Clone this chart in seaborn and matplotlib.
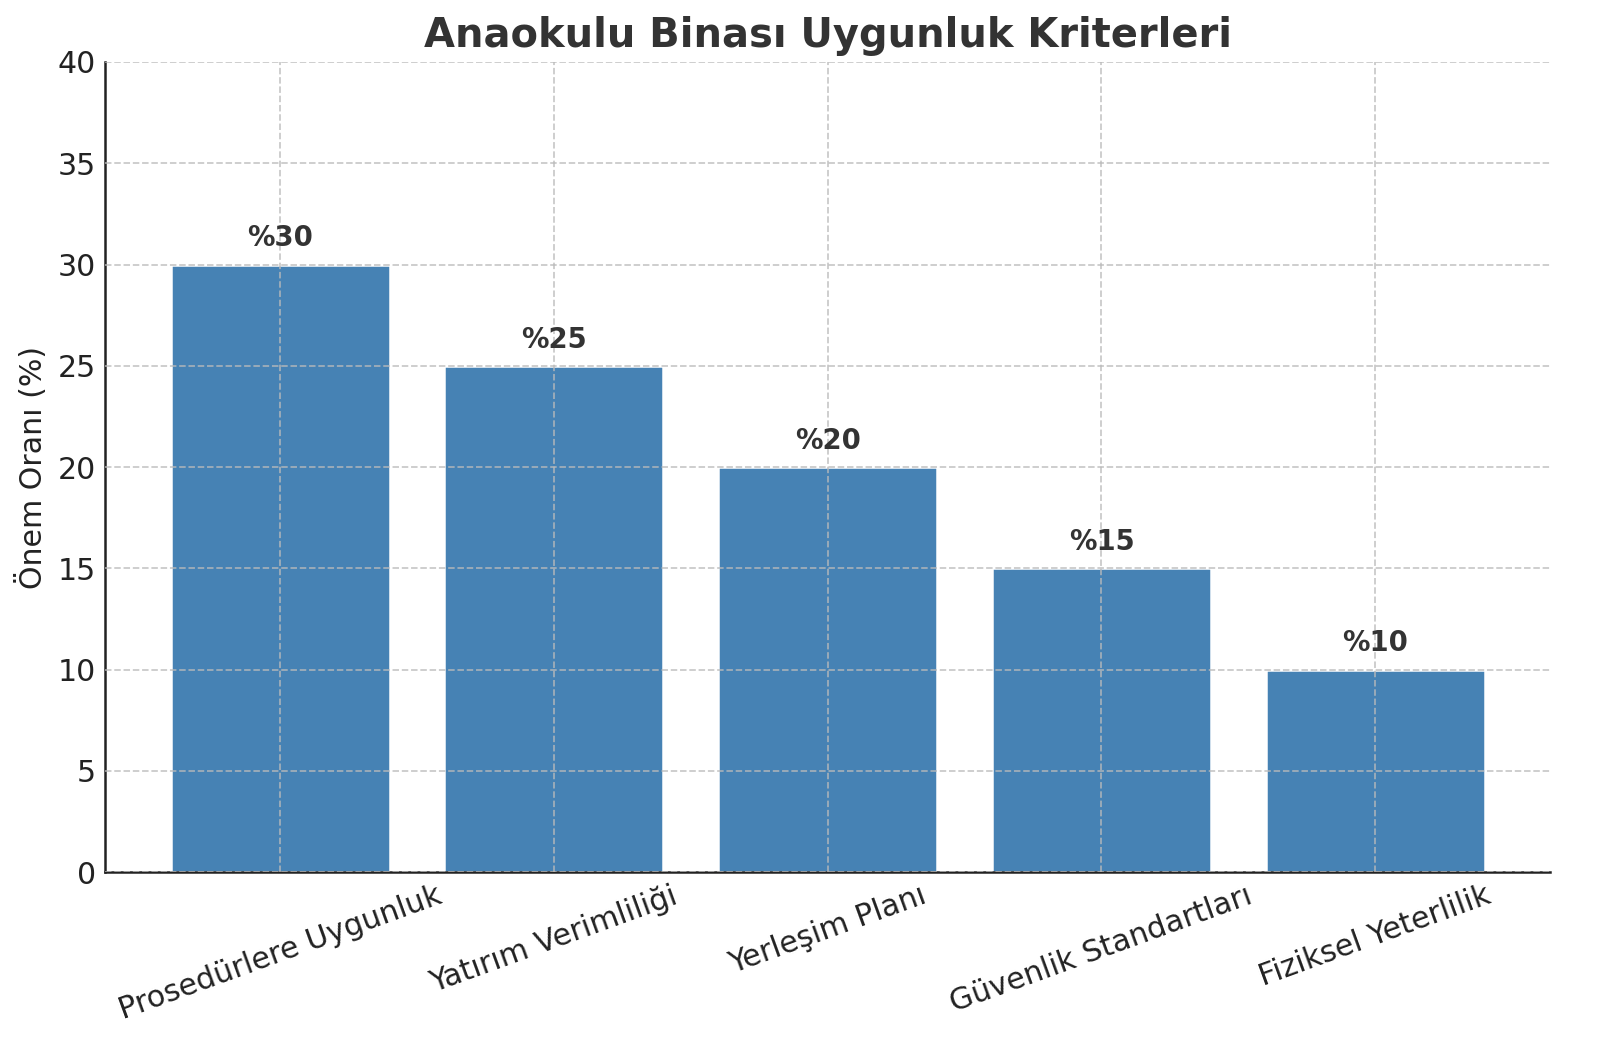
import matplotlib
matplotlib.use('Agg')
import matplotlib.pyplot as plt
import seaborn as sns

criteria = ['Prosedürlere Uygunluk', 'Yatırım Verimliliği', 'Yerleşim Planı',
            'Güvenlik Standartları', 'Fiziksel Yeterlilik']
importance = [30, 25, 20, 15, 10]

sns.set_style('white')
plt.rcParams['font.family'] = ['DejaVu Sans']

DPI = 180
fig, ax = plt.subplots(figsize=(1600 / DPI, 1061 / DPI), dpi=DPI)
fig.subplots_adjust(left=0.0656, right=0.969, top=0.9416, bottom=0.178)

sns.barplot(x=criteria, y=importance, color='steelblue', saturation=1, width=0.8, ax=ax, zorder=2)

for i, v in enumerate(importance):
    ax.text(i, v + 0.6, f'%{v}', ha='center', va='bottom', fontsize=11,
            fontweight='bold', color='#333333')

ax.set_title('Anaokulu Binası Uygunluk Kriterleri', fontsize=16, fontweight='bold', color='#333333')
ax.set_ylabel('Önem Oranı (%)', fontsize=12, color='#222222')
ax.set_xlabel('')
ax.set_ylim(0, 40)
ax.set_xlim(-0.64, 4.64)
ax.set_yticks(range(0, 41, 5))
ax.tick_params(axis='both', direction='in', labelsize=12, colors='#222222', length=4)
plt.setp(ax.get_xticklabels(), rotation=20, ha='center')

ax.grid(True, linestyle='--', color='#bbbbbb', linewidth=0.7, alpha=0.8, zorder=3)
ax.set_axisbelow(False)
for s in ['top', 'right']:
    ax.spines[s].set_visible(False)
for s in ['left', 'bottom']:
    ax.spines[s].set_color('#222222')
    ax.spines[s].set_linewidth(1.0)

fig.savefig('out.png', dpi=DPI)
